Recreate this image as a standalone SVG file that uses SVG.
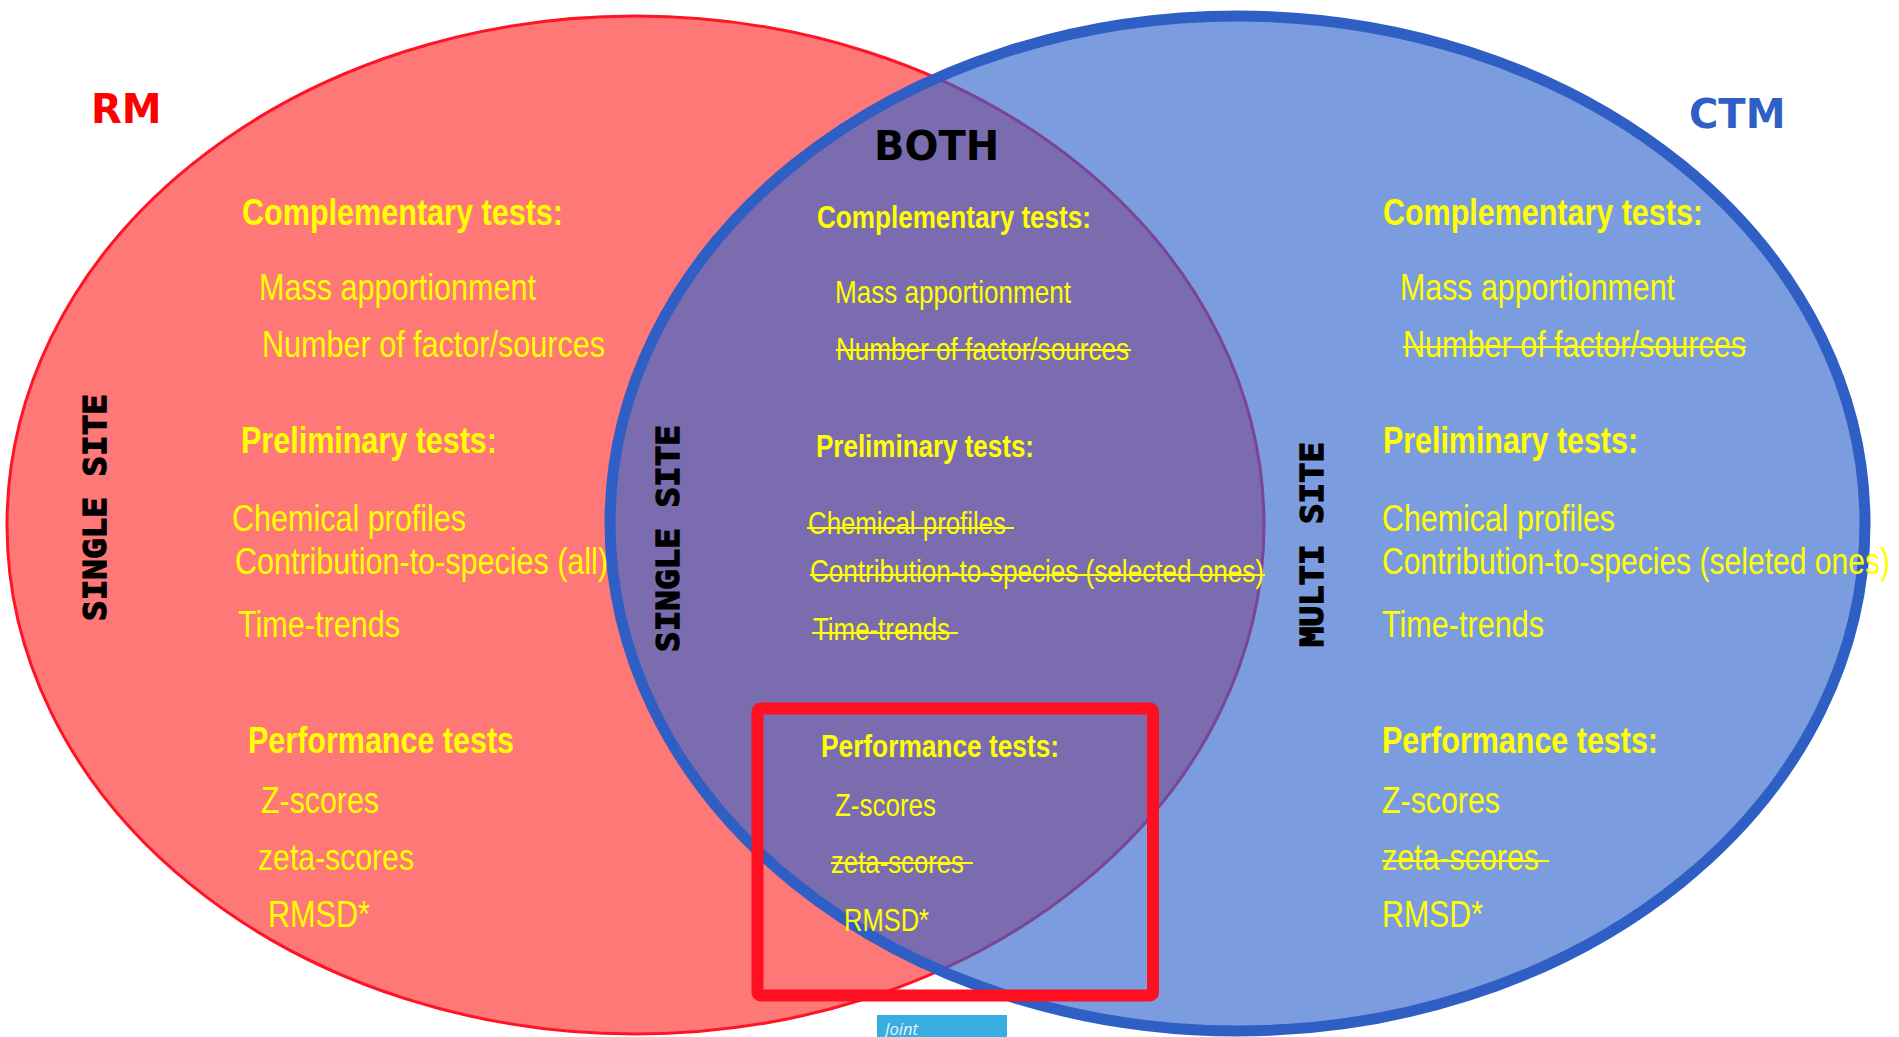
<svg xmlns="http://www.w3.org/2000/svg" width="1899" height="1037" viewBox="0 0 1899 1037">
<style>
.t{font-family:"Liberation Sans Narrow","Liberation Sans",Arial,sans-serif;fill:#ffff00;}
.b{font-weight:bold;}
.o{font-size:37px;}
.m{font-size:31px;}
.lab{font-family:"DejaVu Sans",Verdana,sans-serif;font-weight:bold;}
.v{font-family:"DejaVu Sans Mono","Liberation Mono",monospace;font-weight:bold;font-size:32px;fill:#000;stroke:#000;stroke-width:1.4;}
.s{stroke:#ffff00;stroke-width:2;}
</style>
<defs>
<clipPath id="clipBlue"><ellipse cx="1237.5" cy="523.5" rx="627.5" ry="507.5"/></clipPath>
</defs>
<g id="rm-circle"><ellipse cx="635.5" cy="525" rx="628.5" ry="509" fill="#ff7878" stroke="#ff1426" stroke-width="3"/></g>
<g id="ctm-circle"><ellipse cx="1237.5" cy="523.5" rx="627.5" ry="507.5" fill="#7b9cde"/></g>
<g id="both-area" clip-path="url(#clipBlue)"><ellipse cx="635.5" cy="525" rx="628.5" ry="509" fill="#7b6cb0" stroke="#7b4596" stroke-width="3"/></g>
<g id="ctm-outline"><ellipse cx="1237.5" cy="523.5" rx="627.5" ry="507.5" fill="none" stroke="#2f5fc4" stroke-width="11"/></g>
<g id="highlight-box"><rect x="757.5" y="708.5" width="395.5" height="287" rx="3" fill="none" stroke="#ff1020" stroke-width="12"/></g>
<g id="joint-button"><rect x="877" y="1015" width="130" height="30" fill="#38aee0"/><text x="885" y="1035" font-family="'Open Sans','DejaVu Sans',sans-serif" font-style="italic" font-size="16.5" fill="#e6f4fb">Joint</text></g>

<g id="titles">
<text class="lab" x="91" y="123" font-size="40" fill="#ff0000">RM</text>
<text class="lab" x="1689" y="128" font-size="40" fill="#2f5fc4">CTM</text>
<text class="lab" x="874" y="160" font-size="40" fill="#000">BOTH</text>
<text class="v" transform="translate(106,621) rotate(-90)" textLength="227" lengthAdjust="spacingAndGlyphs">SINGLE SITE</text>
<text class="v" transform="translate(679,652) rotate(-90)" textLength="227" lengthAdjust="spacingAndGlyphs">SINGLE SITE</text>
<text class="v" transform="translate(1323,647) rotate(-90)" textLength="205" lengthAdjust="spacingAndGlyphs">MULTI SITE</text>
</g>

<g id="rm-tests">
<text class="t o b" x="242" y="225" textLength="321" lengthAdjust="spacingAndGlyphs">Complementary tests:</text>
<text class="t o" x="259" y="300" textLength="277" lengthAdjust="spacingAndGlyphs">Mass apportionment</text>
<text class="t o" x="262" y="357" textLength="343" lengthAdjust="spacingAndGlyphs">Number of factor/sources</text>
<text class="t o b" x="241" y="453" textLength="256" lengthAdjust="spacingAndGlyphs">Preliminary tests:</text>
<text class="t o" x="232" y="531" textLength="234" lengthAdjust="spacingAndGlyphs">Chemical profiles</text>
<text class="t o" x="235" y="574" textLength="373" lengthAdjust="spacingAndGlyphs">Contribution-to-species (all)</text>
<text class="t o" x="238" y="637" textLength="162" lengthAdjust="spacingAndGlyphs">Time-trends</text>
<text class="t o b" x="248" y="753" textLength="266" lengthAdjust="spacingAndGlyphs">Performance tests</text>
<text class="t o" x="261" y="813" textLength="118" lengthAdjust="spacingAndGlyphs">Z-scores</text>
<text class="t o" x="258" y="870" textLength="156" lengthAdjust="spacingAndGlyphs">zeta-scores</text>
<text class="t o" x="268" y="927" textLength="102" lengthAdjust="spacingAndGlyphs">RMSD*</text>
</g>

<g id="both-tests">
<text class="t b" font-size="32" x="817" y="228" textLength="274" lengthAdjust="spacingAndGlyphs">Complementary tests:</text>
<text class="t" font-size="32" x="835" y="303" textLength="236" lengthAdjust="spacingAndGlyphs">Mass apportionment</text>
<text class="t" font-size="32" x="836" y="360" textLength="293" lengthAdjust="spacingAndGlyphs">Number of factor/sources</text>
<line class="s" x1="836" y1="350" x2="1131" y2="350"/>
<text class="t m b" x="816" y="457" textLength="218" lengthAdjust="spacingAndGlyphs">Preliminary tests:</text>
<text class="t m" x="808" y="534" textLength="198" lengthAdjust="spacingAndGlyphs">Chemical profiles</text>
<line class="s" x1="807" y1="528" x2="1014" y2="528"/>
<text class="t m" x="810" y="582" textLength="454" lengthAdjust="spacingAndGlyphs">Contribution-to-species (selected ones)</text>
<line class="s" x1="810" y1="575" x2="1265" y2="575"/>
<text class="t m" x="813" y="640" textLength="137" lengthAdjust="spacingAndGlyphs">Time-trends</text>
<line class="s" x1="812" y1="633" x2="958" y2="633"/>
<text class="t m b" x="821" y="757" textLength="238" lengthAdjust="spacingAndGlyphs">Performance tests:</text>
<text class="t m" x="835" y="816" textLength="101" lengthAdjust="spacingAndGlyphs">Z-scores</text>
<text class="t m" x="831" y="873" textLength="133" lengthAdjust="spacingAndGlyphs">zeta-scores</text>
<line class="s" x1="831" y1="863" x2="973" y2="863"/>
<text class="t m" x="844" y="931" textLength="85" lengthAdjust="spacingAndGlyphs">RMSD*</text>
</g>

<g id="ctm-tests">
<text class="t o b" x="1383" y="225" textLength="320" lengthAdjust="spacingAndGlyphs">Complementary tests:</text>
<text class="t o" x="1400" y="300" textLength="275" lengthAdjust="spacingAndGlyphs">Mass apportionment</text>
<text class="t o" x="1403" y="357" textLength="343" lengthAdjust="spacingAndGlyphs">Number of factor/sources</text>
<line class="s" x1="1403" y1="347" x2="1746" y2="347"/>
<text class="t o b" x="1383" y="453" textLength="255" lengthAdjust="spacingAndGlyphs">Preliminary tests:</text>
<text class="t o" x="1382" y="531" textLength="233" lengthAdjust="spacingAndGlyphs">Chemical profiles</text>
<text class="t o" x="1382" y="574" textLength="508" lengthAdjust="spacingAndGlyphs">Contribution-to-species (seleted ones)</text>
<text class="t o" x="1382" y="637" textLength="162" lengthAdjust="spacingAndGlyphs">Time-trends</text>
<text class="t o b" x="1382" y="753" textLength="276" lengthAdjust="spacingAndGlyphs">Performance tests:</text>
<text class="t o" x="1382" y="813" textLength="118" lengthAdjust="spacingAndGlyphs">Z-scores</text>
<text class="t o" x="1382" y="870" textLength="157" lengthAdjust="spacingAndGlyphs">zeta-scores</text>
<line class="s" x1="1382" y1="861" x2="1549" y2="861"/>
<text class="t o" x="1382" y="927" textLength="101" lengthAdjust="spacingAndGlyphs">RMSD*</text>
</g>
</svg>
